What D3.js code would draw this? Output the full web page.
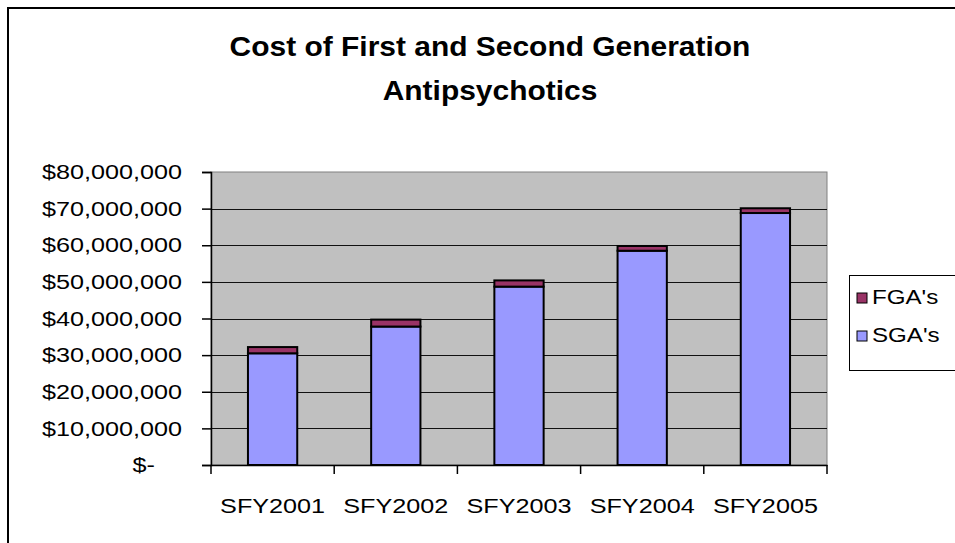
<!DOCTYPE html>
<html>
<head>
<meta charset="utf-8">
<script src="https://cdn.jsdelivr.net/npm/d3@7"></script>
<style>
  body { margin: 0; background: #fff; }
  svg { display: block; font-family: "Liberation Sans", Arial, sans-serif; }
</style>
</head>
<body>
<svg id="chart" width="955" height="543"></svg>
<script>
// data
const categories = ['SFY2001', 'SFY2002', 'SFY2003', 'SFY2004', 'SFY2005'];
const sgaValues = [30500000, 37800000, 48700000, 58500000, 68800000];
const fgaValues = [1700000, 1900000, 1700000, 1300000, 1300000];
const yTicks = [0, 10000000, 20000000, 30000000, 40000000, 50000000, 60000000, 70000000, 80000000];
const seriesNames = ['SGA\'s', 'FGA\'s'];

const colors = {
    sga: '#9999ff',
    fga: '#993366',
    plotBg: '#c0c0c0'
};

const svg = d3.select('#chart');

const plot = { left: 211, right: 827, top: 172, bottom: 465 };

const x = d3.scaleBand()
    .domain(categories)
    .range([plot.left, plot.right])
    .padding(0);

const y = d3.scaleLinear()
    .domain([0, 80000000])
    .range([plot.bottom, plot.top]);

const rows = categories.map((c, i) => ({ cat: c, sga: sgaValues[i], fga: fgaValues[i] }));
const stacked = d3.stack().keys(['sga', 'fga'])(rows);

// outer chart border (cut off on the right and bottom)
svg.append('rect')
    .attr('x', 8)
    .attr('y', 8)
    .attr('width', 1000)
    .attr('height', 600)
    .attr('fill', 'none')
    .attr('stroke', '#000')
    .attr('stroke-width', 2);

// Excel stretched the text horizontally, so scale each label around its anchor
function stretchText(sel, sx) {
    sel.each(function() {
        const t = d3.select(this);
        const tx = +t.attr('x') || 0;
        const ty = +t.attr('y') || 0;
        t.attr('x', 0).attr('y', 0)
            .attr('transform', `translate(${tx},${ty}) scale(${sx},1)`);
    });
}

// title
const title = svg.append('g');
['Cost of First and Second Generation', 'Antipsychotics'].forEach((line, i) => {
    title.append('text')
        .attr('x', 490)
        .attr('y', 56 + i * 44)
        .attr('text-anchor', 'middle')
        .style('font-size', '28px')
        .style('font-weight', 'bold')
        .text(line);
});
stretchText(title.selectAll('text'), 1.07);

// plot area
svg.append('rect')
    .attr('x', plot.left)
    .attr('y', plot.top)
    .attr('width', plot.right - plot.left)
    .attr('height', plot.bottom - plot.top)
    .attr('fill', colors.plotBg)
    .attr('stroke', '#808080')
    .attr('stroke-width', 1);

// gridlines
svg.append('g')
    .selectAll('line')
    .data(yTicks.slice(1, -1))
    .join('line')
    .attr('x1', plot.left)
    .attr('x2', plot.right)
    .attr('y1', d => Math.round(y(d)) + 0.5)
    .attr('y2', d => Math.round(y(d)) + 0.5)
    .attr('stroke', '#111')
    .attr('stroke-width', 1.2);

// bars
const barWidth = x.bandwidth() * 0.4;
svg.append('g')
    .selectAll('g')
    .data(stacked)
    .join('g')
    .attr('fill', d => colors[d.key])
    .selectAll('rect')
    .data(d => d)
    .join('rect')
    .attr('x', d => x(d.data.cat) + (x.bandwidth() - barWidth) / 2)
    .attr('y', d => y(d[1]))
    .attr('width', barWidth)
    .attr('height', d => y(d[0]) - y(d[1]))
    .attr('stroke', '#000')
    .attr('stroke-width', 2);

// y axis
const yAxis = svg.append('g')
    .attr('transform', `translate(${plot.left},0)`)
    .call(d3.axisLeft(y)
        .tickValues(yTicks)
        .tickSize(9)
        .tickPadding(20)
        .tickFormat(d => d === 0 ? '$-' : '$' + d3.format(',')(d)));
yAxis.select('.domain').attr('stroke', '#000').attr('stroke-width', 1.5);
yAxis.selectAll('.tick line').attr('stroke', '#000').attr('stroke-width', 1.5);
yAxis.selectAll('.tick text')
    .style('font-size', '21px')
    .style('font-family', '"Liberation Sans", Arial, sans-serif')
    .attr('fill', '#000')
    .attr('x', d => d === 0 ? -56 : -29);
stretchText(yAxis.selectAll('.tick text'), 1.2);

// x axis
const xAxis = svg.append('g')
    .attr('transform', `translate(0,${plot.bottom})`)
    .call(d3.axisBottom(x).tickSize(0).tickPadding(0));
xAxis.select('.domain').attr('stroke', '#000').attr('stroke-width', 1.5);
xAxis.selectAll('.tick text')
    .style('font-size', '21px')
    .style('font-family', '"Liberation Sans", Arial, sans-serif')
    .attr('fill', '#000')
    .attr('dy', null)
    .attr('y', 48);
stretchText(xAxis.selectAll('.tick text'), 1.2);

const boundaries = categories.map(c => x(c)).concat([x(categories[categories.length - 1]) + x.bandwidth()]);
xAxis.selectAll('.boundary')
    .data(boundaries)
    .join('line')
    .attr('class', 'boundary')
    .attr('x1', d => d)
    .attr('x2', d => d)
    .attr('y1', 0)
    .attr('y2', 9)
    .attr('stroke', '#000')
    .attr('stroke-width', 1.5);

// legend
const legend = svg.append('g');
legend.append('rect')
    .attr('x', 849.5)
    .attr('y', 275.5)
    .attr('width', 200)
    .attr('height', 95)
    .attr('fill', '#fff')
    .attr('stroke', '#000')
    .attr('stroke-width', 1);

const legendItems = [
    { name: seriesNames[1], color: colors.fga },
    { name: seriesNames[0], color: colors.sga }
];
legendItems.forEach((item, i) => {
    const ly = 293 + i * 38;
    legend.append('rect')
        .attr('x', 857)
        .attr('y', ly)
        .attr('width', 10)
        .attr('height', 10)
        .attr('fill', item.color)
        .attr('stroke', '#000')
        .attr('stroke-width', 1);
    legend.append('text')
        .attr('class', 'ltext')
        .attr('x', 872)
        .attr('y', ly + 11)
        .style('font-size', '21px')
        .text(item.name);
});
stretchText(legend.selectAll('.ltext'), 1.15);
</script>
</body>
</html>
